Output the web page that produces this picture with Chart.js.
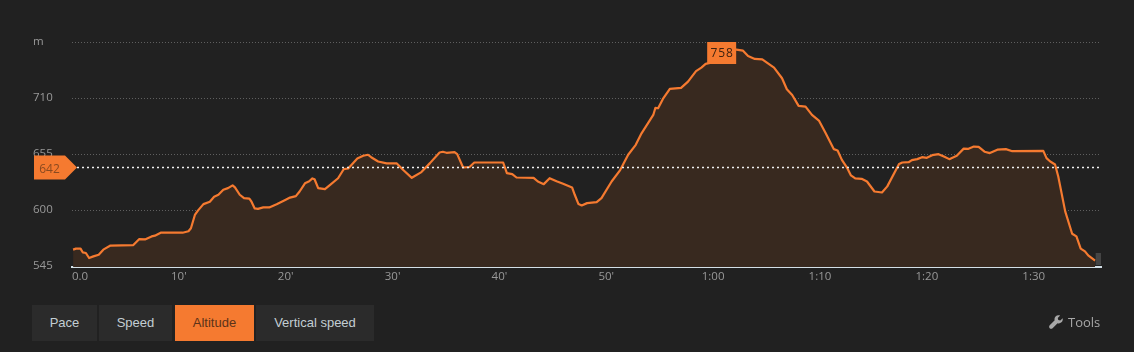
<!DOCTYPE html>
<html>
<head>
<meta charset="utf-8">
<title>Altitude</title>
<script src="https://cdn.jsdelivr.net/npm/chart.js@4/dist/chart.umd.min.js"></script>
<style>
    html, body { margin: 0; padding: 0; background: #212121; overflow: hidden; }
    #wrap { position: relative; width: 1134px; height: 352px; }
    #altitudeChart { position: absolute; left: 0; top: 0; }
    .tab { position: absolute; top: 305px; height: 36px; text-align: center; background: #2b2b2b; color: #c3ced3; font: 13px/36px "Liberation Sans", Arial, sans-serif; }
    .tab.active { background: #f57a30; color: #5c3319; }
    #tools { position: absolute; left: 1068px; top: 314px; color: #a8a8a8; font: 13px/17px "Open Sans", sans-serif; }
    #toolsIcon { position: absolute; left: 1049px; top: 315px; }
</style>
</head>
<body>
<div id="wrap">
    <canvas id="altitudeChart" width="1134" height="352"></canvas>
    <div class="tab" style="left:32px;width:65px">Pace</div>
    <div class="tab" style="left:99px;width:73px">Speed</div>
    <div class="tab active" style="left:175px;width:79px">Altitude</div>
    <div class="tab" style="left:256px;width:118px">Vertical speed</div>
    <svg id="toolsIcon" width="14" height="14" viewBox="0 0 16 16"><path fill="#a8a8a8" d="M15.6 3.6l-2.7 2.7-2.3-.6-.6-2.3L12.700.7C10.900-.1 8.800.3 7.500 1.700 6.300 2.900 6 4.600 6.500 6.100L.8 11.800c-.9.9-.9 2.400 0 3.300.9.900 2.400.900 3.300 0l5.700-5.700c1.500.5 3.200.2 4.400-1 1.400-1.300 1.800-3.400 1.400-4.800z"/></svg>
    <div id="tools">Tools</div>
</div>

<script>
const minutes = [
    0.1, 0.37, 0.8, 1.0, 1.3, 1.6, 2.0, 2.5, 2.93, 3.6, 5.74, 6.3, 6.83, 7.45, 7.76, 8.3, 10.35, 10.9, 11.13, 11.5,
    11.8, 12.3, 12.9, 13.3, 13.7, 14.16, 14.6, 15.03, 15.25, 15.7, 16.1, 16.6, 16.8, 17.1, 17.4, 17.9, 18.46, 19.15, 20.0, 20.4,
    20.95, 21.3, 21.8, 22.2, 22.5, 22.7, 23.04, 23.67, 24.1, 24.9, 25.44, 25.85, 26.7, 27.25, 27.7, 28.0, 28.65, 29.45, 30.4, 31.0,
    31.8, 32.7, 33.5, 34.4, 34.7, 35.05, 35.8, 36.05, 36.6, 37.2, 37.65, 40.35, 40.7, 41.2, 41.6, 43.2, 43.6, 44.15, 44.7, 45.35,
    45.96, 46.8, 47.05, 47.4, 47.7, 48.2, 49.1, 49.55, 50.5, 51.3, 52.05, 52.76, 53.3, 54.4, 54.6, 54.85, 55.3, 55.95, 57.0, 57.65,
    58.4, 58.9, 59.3, 59.7, 60.4, 60.8, 62.18, 62.8, 63.27, 63.9, 64.6, 65.2, 65.7, 66.45, 66.9, 67.4, 68.0, 68.65, 69.25, 69.9,
    70.5, 71.3, 71.65, 72.05, 72.5, 72.9, 73.3, 73.9, 74.4, 75.1, 75.8, 76.3, 77.4, 77.7, 78.3, 78.6, 79.1, 79.55, 80.0, 80.5,
    81.1, 81.6, 82.1, 82.8, 83.45, 83.9, 84.4, 84.85, 85.4, 85.9, 86.6, 87.4, 88.0, 90.9, 91.2, 91.55, 92.0, 92.3, 92.95, 93.6,
    94.0, 94.4, 94.8, 95.1, 95.75
];
const altitudes = [
    562, 563, 563, 559.4, 558.7, 553.8, 555.4, 557, 562, 566, 566.5, 572.4, 572, 575, 575.7, 578.6, 578.6, 580, 583, 596,
    600.5, 606.6, 609, 613.8, 615.8, 620.7, 622.3, 625, 623, 615.8, 612.5, 612, 609, 602.4, 602, 603.4, 603.4, 606.6, 611, 613,
    614.5, 619, 627, 629, 631.8, 631, 622.3, 621.3, 625, 632, 641, 641.5, 651.3, 654, 655, 652.6, 648.4, 646.5, 646.5, 640,
    632.4, 638, 646.8, 657.2, 657.9, 656.9, 657.5, 655.6, 642.5, 643, 647.4, 647.4, 637, 636, 632.7, 632.4, 628.8, 626.2, 632, 629,
    626.5, 623, 615.8, 606.7, 605.3, 607.6, 608.6, 612.5, 628.8, 640, 655, 664.7, 676, 694, 701, 700.6, 709.7, 719.5, 720.5, 726.7,
    737, 740.4, 744, 745, 752, 758, 758, 757, 751.8, 748.9, 748.5, 744, 740.4, 730, 719.2, 713.6, 702.9, 702.2, 694, 688.5,
    676.8, 660.5, 659.2, 650, 642.9, 634.7, 631.8, 631.4, 628.8, 619, 618, 624, 646, 647.4, 647.7, 649.7, 650.7, 652.6, 652, 654.6,
    655.6, 653.3, 650.7, 654, 661, 660.8, 663, 662.8, 658, 656.6, 660, 660.5, 658.5, 658.8, 651.7, 648.4, 645.5, 633.7, 599.5, 577.6,
    575, 563, 560.3, 556.4, 551.2
];
const xTickValues = [0, 10, 20, 30, 40, 50, 60, 70, 80, 90, 96.3];
const xTickLabels = ['0.0', "10'", "20'", "30'", "40'", "50'", '1:00', '1:10', '1:20', '1:30', ''];
const yTickValues = [545, 600, 655, 710, 765];
const yTickLabels = ['545', '600', '655', '710', 'm'];
const currentAltitude = 642;
const peakAltitude = 758;
const peakMinute = 60.8;

const orange = '#f57a30';
const tickFont = { family: '"Open Sans", sans-serif', size: 11.5 };

// dotted current level with its arrow tag, peak tag and the small end handle
const overlayPlugin = {
    id: 'overlay',
    afterDraw(chart) {
        const ctx = chart.ctx;
        const x = chart.scales.x;
        const y = chart.scales.y;
        const levelY = Math.round(y.getPixelForValue(currentAltitude)) - 0.5;
        ctx.save();

        // end handle
        ctx.fillStyle = '#444444';
        ctx.fillRect(x.getPixelForValue(95.8), 253, x.right - x.getPixelForValue(95.8), 12);

        ctx.strokeStyle = '#f0f0f0';
        ctx.lineWidth = 1.5;
        ctx.setLineDash([2, 3]);
        ctx.beginPath();
        ctx.moveTo(x.left + 5, levelY);
        ctx.lineTo(x.right, levelY);
        ctx.stroke();
        ctx.setLineDash([]);

        ctx.fillStyle = orange;
        ctx.beginPath();
        ctx.moveTo(34, levelY - 12);
        ctx.lineTo(65, levelY - 12);
        ctx.lineTo(77, levelY);
        ctx.lineTo(65, levelY + 12);
        ctx.lineTo(34, levelY + 12);
        ctx.closePath();
        ctx.fill();
        ctx.fillStyle = '#8a4a20';
        ctx.font = '12px "Open Sans", sans-serif';
        ctx.textAlign = 'center';
        ctx.textBaseline = 'middle';
        ctx.fillText(String(currentAltitude), 49.5, levelY + 2.5);

        const peakX = x.getPixelForValue(peakMinute);
        ctx.fillStyle = orange;
        ctx.fillRect(peakX - 14.5, 42, 29, 22);
        ctx.fillStyle = '#3d2210';
        ctx.font = '12px "Open Sans", sans-serif';
        ctx.letterSpacing = '1px';
        ctx.fillText(String(peakAltitude), peakX + 0.5, 53.5);
        ctx.restore();
    }
};

new Chart(document.getElementById('altitudeChart').getContext('2d'), {
    type: 'line',
    data: {
        datasets: [{
            label: 'Altitude',
            data: minutes.map((m, i) => ({ x: m, y: altitudes[i] })),
            borderColor: orange,
            borderWidth: 2.2,
            borderJoinStyle: 'round',
            backgroundColor: '#38291f',
            fill: 'start',
            pointRadius: 0,
            tension: 0
        }]
    },
    options: {
        responsive: false,
        animation: false,
        layout: { padding: { left: 33, right: 33, top: 42.5, bottom: 65 } },
        plugins: { legend: { display: false }, tooltip: { enabled: false } },
        scales: {
            x: {
                type: 'linear',
                min: 0,
                max: 96.3,
                afterBuildTicks(scale) {
                    scale.ticks = xTickValues.map(v => ({ value: v }));
                },
                afterFit(scale) {
                    scale.height = 20;
                    scale.paddingLeft = 0;
                    scale.paddingRight = 0;
                },
                grid: { display: false, drawTicks: false },
                border: { display: true, color: '#d3dfe6', width: 2 },
                ticks: {
                    align: 'inner',
                    autoSkip: false,
                    maxRotation: 0,
                    padding: 3,
                    color: '#999999',
                    font: tickFont,
                    callback: value => xTickLabels[xTickValues.indexOf(value)]
                }
            },
            y: {
                min: 545,
                max: 765,
                afterBuildTicks(scale) {
                    scale.ticks = yTickValues.map(v => ({ value: v }));
                },
                afterFit(scale) {
                    scale.width = 39;
                    scale.paddingTop = 0;
                    scale.paddingBottom = 0;
                },
                grid: { color: '#5f5f5f', lineWidth: 1, drawTicks: false },
                border: { display: false, dash: [1, 2] },
                ticks: {
                    crossAlign: 'far',
                    padding: 0,
                    labelOffset: -1,
                    color: '#999999',
                    font: tickFont,
                    callback: value => yTickLabels[yTickValues.indexOf(value)]
                }
            }
        }
    },
    plugins: [overlayPlugin]
});
</script>
</body>
</html>
